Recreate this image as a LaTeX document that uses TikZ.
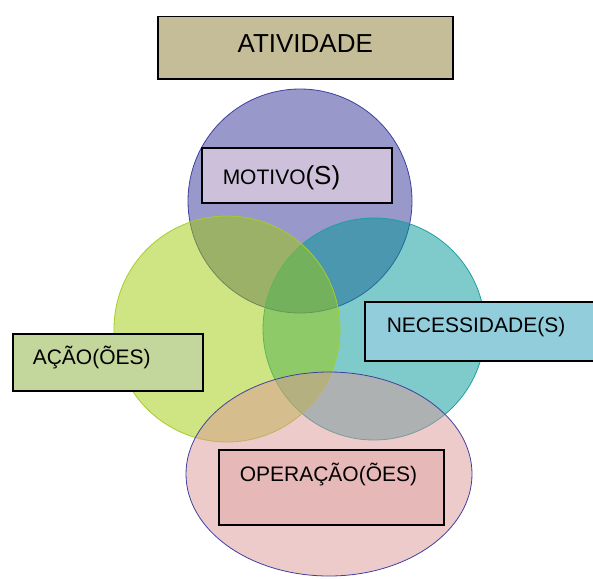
\documentclass[tikz,border=0pt]{standalone}
\usepackage{fontspec}
\setmainfont{Liberation Sans}
\usetikzlibrary{shapes.geometric}
\definecolor{cpurple}{RGB}{49,49,149}
\definecolor{cpurpleline}{RGB}{64,64,160}
\definecolor{cgreen}{RGB}{159,203,9}
\definecolor{cgreenline}{RGB}{165,205,40}
\definecolor{cteal}{RGB}{0,151,151}
\definecolor{ctealline}{RGB}{30,160,160}
\definecolor{cpink}{RGB}{219,151,151}
\definecolor{cpinkline}{RGB}{64,64,160}
\definecolor{boxtan}{RGB}{196,189,151}
\definecolor{boxlilac}{RGB}{204,192,218}
\definecolor{boxblue}{RGB}{146,205,220}
\definecolor{boxgreen}{RGB}{195,214,155}
\definecolor{boxpink}{RGB}{230,185,184}
\begin{document}
\begin{tikzpicture}[x=1pt,y=-1pt,
  venn/.style={fill opacity=0.5, line width=0.8pt},
  lbl/.style={draw=black, line width=1.5pt, inner sep=0pt, anchor=north west,
    align=left, font=\fontsize{21}{25}\selectfont}]
\useasboundingbox (0,0) rectangle (593,578);
% overlapping sets
\draw[venn, fill=cpurple, draw=cpurpleline] (300,201) circle[radius=112];
\draw[venn, fill=cteal, draw=ctealline] (374,329) circle[radius=111];
\draw[venn, fill=cgreen, draw=cgreenline] (227,329) circle[radius=113];
\draw[venn, fill=cpink, draw=cpinkline] (329,474) ellipse[x radius=143, y radius=102];
% label boxes
\node[lbl, fill=boxtan, align=center, font=\fontsize{26}{30}\selectfont,
  text width=295pt, text height=36pt, text depth=26pt] (atividade) at (157,16) {ATIVIDADE};
\node[lbl, fill=boxlilac, text width=190pt, text height=37pt, text depth=18pt]
  (motivo) at (201,147) {\hspace*{21pt}MOTIVO{\fontsize{26}{30}\selectfont(S)}};
\node[lbl, fill=boxblue, text width=229pt, text height=31pt, text depth=28pt]
  (necessidade) at (364,301) {\hspace*{22pt}NECESSIDADE(S)};
\node[lbl, fill=boxgreen, text width=190pt, text height=31pt, text depth=26pt]
  (acao) at (12,333) {\hspace*{20pt}AÇÃO(ÕES)};
\node[lbl, fill=boxpink, text width=225pt, text height=32pt, text depth=43pt]
  (operacao) at (218,449) {\hspace*{21pt}OPERAÇÃO(ÕES)};
\end{tikzpicture}
\end{document}
